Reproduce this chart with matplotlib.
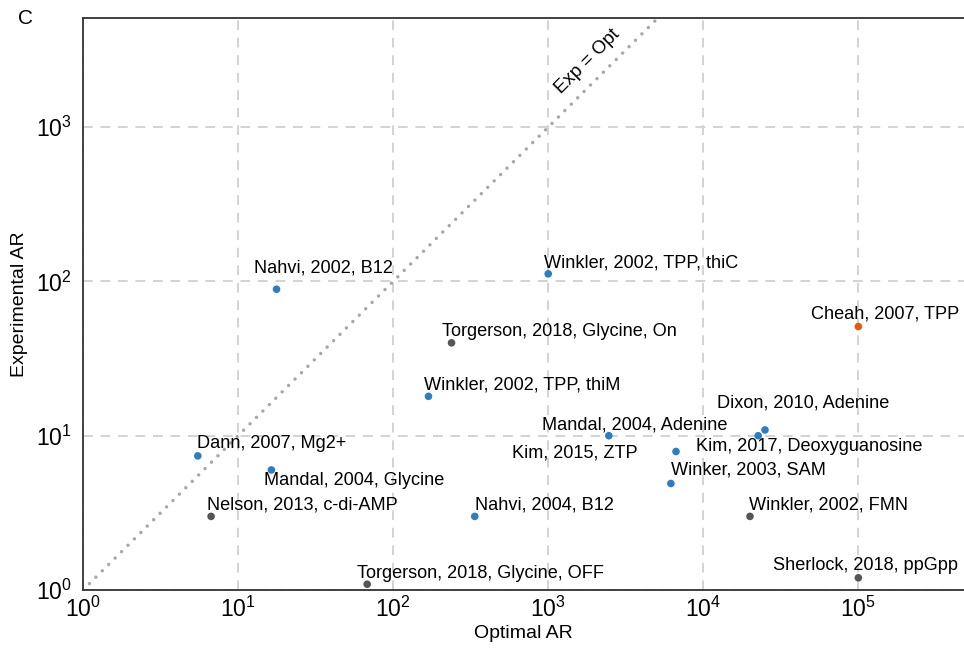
import matplotlib

matplotlib.use("Agg")
import matplotlib.pyplot as plt
import numpy as np

plt.rcParams["font.family"] = ["Liberation Sans", "DejaVu Sans"]
plt.rcParams["mathtext.fontset"] = "custom"
plt.rcParams["mathtext.rm"] = "Liberation Sans"

# riboswitch activation ratios
labels = [
    "Nahvi, 2002, B12",
    "Winkler, 2002, TPP, thiC",
    "Cheah, 2007, TPP",
    "Torgerson, 2018, Glycine, On",
    "Winkler, 2002, TPP, thiM",
    "Mandal, 2004, Adenine",
    "Dixon, 2010, Adenine",
    "Kim, 2017, Deoxyguanosine",
    "Kim, 2015, ZTP",
    "Winker, 2003, SAM",
    "Dann, 2007, Mg2+",
    "Mandal, 2004, Glycine",
    "Nelson, 2013, c-di-AMP",
    "Nahvi, 2004, B12",
    "Winkler, 2002, FMN",
    "Torgerson, 2018, Glycine, OFF",
    "Sherlock, 2018, ppGpp",
]
optimal_ar = [17.7, 1000, 1e5, 238, 169, 2460, 25000, 22600, 6670, 6180,
              5.5, 16.4, 6.7, 336, 20000, 68, 1e5]
experimental_ar = [89, 112, 51, 40, 18, 10, 10.9, 10, 7.9, 4.9,
                   7.4, 6.0, 3.0, 3.0, 3.0, 1.09, 1.2]
group = ["blue", "blue", "orange", "gray", "blue", "blue", "blue", "blue", "blue",
         "blue", "blue", "blue", "gray", "blue", "gray", "gray", "gray"]

palette = {"blue": "#2f7cbf", "gray": "#555555", "orange": "#e8590c"}

# label offsets in pixels (dx right, dy up) relative to each point
offsets = [(-23, 21), (-4, 11), (-47, 13), (-10, 11), (-4, 11), (-67, 11),
           (-48, 27), (-62, -11), (-164, -1), (0, 14), (-1, 12), (-7, -11),
           (-4, 11), (0, 11), (-1, 11), (-10, 11), (-85, 12)]

fig = plt.figure(figsize=(9.64, 6.56), dpi=100)
ax = fig.add_axes([0.0861, 0.1006, 0.9139, 0.872])

ax.set_xscale("log")
ax.set_yscale("log")
ax.set_xlim(1, 4.8e5)
ax.set_ylim(1, 5100)

ax.grid(True, which="major", linestyle=(0, (5, 4)), color="#d3d3d3", linewidth=1.4)
ax.set_axisbelow(True)

diag = np.array([1, 1e4])
ax.plot(diag, diag, linestyle=(0, (0.01, 2.6)), color="#a8a8a8", linewidth=2.5,
        dash_capstyle="round", zorder=1)
ax.text(1800, 2650, "Exp = Opt", rotation=45, ha="center", va="center",
        fontsize=13.5, rotation_mode="anchor")

colors = [palette[g] for g in group]
ax.scatter(optimal_ar, experimental_ar, c=colors, s=30, zorder=3, linewidths=0)

for lab, x, y, (dx, dy) in zip(labels, optimal_ar, experimental_ar, offsets):
    ax.annotate(lab, (x, y), xytext=(dx, dy), textcoords="offset pixels",
                ha="left", va="center", fontsize=13.1)

for side in ["left", "bottom", "top"]:
    ax.spines[side].set_color("#333333")
    ax.spines[side].set_linewidth(1.3)
ax.spines["right"].set_visible(False)

ax.tick_params(axis="both", which="both", length=0, labelsize=16.5)
ax.tick_params(axis="x", pad=5)
ax.tick_params(axis="y", pad=8)
ax.minorticks_off()
ax.set_xlabel("Optimal AR", fontsize=14, labelpad=2)
ax.set_ylabel("Experimental AR", fontsize=14, labelpad=6)

fig.text(0.019, 0.972, "C", fontsize=15, ha="left", va="center")

fig.savefig("out.png", dpi=100)
